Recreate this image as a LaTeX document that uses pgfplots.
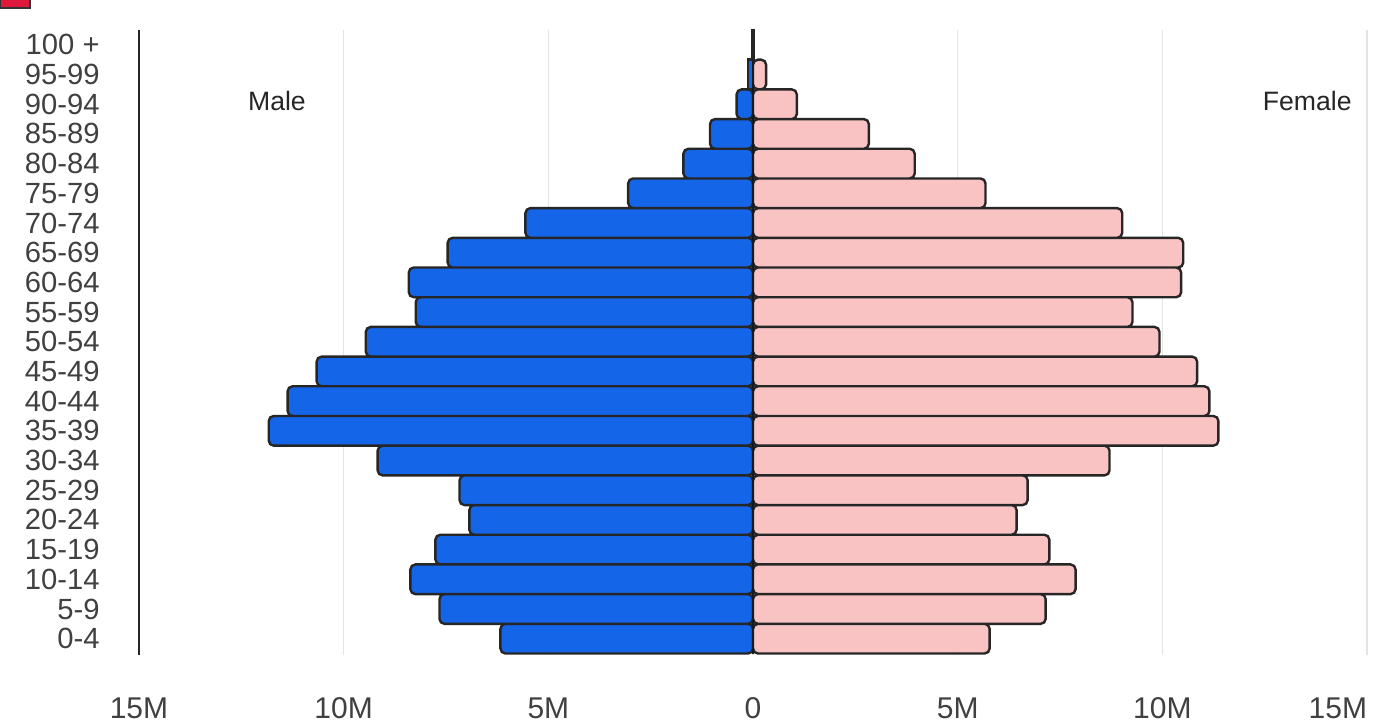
\documentclass[border=0pt]{standalone}
\usepackage{pgfplots}
\pgfplotsset{compat=1.18}
\usepackage{fontspec}
\setmainfont{Liberation Sans}
\definecolor{maleblue}{HTML}{1565E8}
\definecolor{femalepink}{HTML}{F9C3C3}
\definecolor{gridgray}{HTML}{E4E4E4}
\definecolor{labelgray}{HTML}{404040}
\definecolor{tagred}{HTML}{E0193C}
\pgfplotstableread{
x y
-6.17 0
-7.66 1
-8.37 2
-7.76 3
-6.93 4
-7.17 5
-9.17 6
-11.83 7
-11.37 8
-10.66 9
-9.46 10
-8.24 11
-8.41 12
-7.46 13
-5.56 14
-3.05 15
-1.70 16
-1.05 17
-0.40 18
-0.12 19
-0.03 20
}\maletable
\pgfplotstableread{
x y
5.78 0
7.15 1
7.88 2
7.24 3
6.44 4
6.71 5
8.71 6
11.37 7
11.15 8
10.85 9
9.93 10
9.27 11
10.46 12
10.51 13
9.02 14
5.68 15
3.95 16
2.83 17
1.07 18
0.32 19
0.03 20
}\femaletable
\begin{document}
\begin{tikzpicture}
\begin{axis}[
  at={(69.5pt,33.5pt)}, anchor=south west,
  scale only axis, width=614pt, height=312.5pt,
  xmin=-15, xmax=15, ymin=-0.55, ymax=20.5,
  axis line style={draw=none},
  major tick length=0pt,
  xtick={-10,-5,0,5,10,15},
  xticklabels={10M,5M,0,5M,10M,\makebox[0pt][r]{15M}},
  extra x ticks={-15}, extra x tick labels={15M},
  extra x tick style={major grid style={draw=black!85, line width=1pt}},
  xmajorgrids, major grid style={gridgray, line width=0.7pt},
  ytick={0,...,20},
  yticklabels={0-4,5-9,10-14,15-19,20-24,25-29,30-34,35-39,40-44,45-49,50-54,55-59,60-64,65-69,70-74,75-79,80-84,85-89,90-94,95-99,100 +},
  xticklabel style={font=\fontsize{15}{15}\selectfont, text=labelgray, anchor=center, yshift=-26.5pt},
  yticklabel style={font=\fontsize{14.6}{14.6}\selectfont, text=labelgray, anchor=east, inner sep=0pt, xshift=-19.5pt},
  xbar, bar width=1, bar shift=0pt,
  clip=false,
]
\addplot[fill=maleblue, draw=black!85, line width=1.2pt, rounded corners=2.5pt, skip coords between index={19}{21}] table[x=x,y=y] {\maletable};
\addplot[fill=femalepink, draw=black!85, line width=1.2pt, rounded corners=2.5pt, skip coords between index={20}{21}] table[x=x,y=y] {\femaletable};
\addplot[fill=maleblue, draw=black!85, line width=1.2pt, skip coords between index={0}{19}] table[x=x,y=y] {\maletable};
\addplot[fill=femalepink, draw=black!85, line width=1.2pt, skip coords between index={0}{20}] table[x=x,y=y] {\femaletable};
\addplot[sharp plot, black!90, line width=1.3pt] coordinates {(0,-0.5) (0,19.5)};
\node[font=\fontsize{13.3}{13.3}\selectfont, text=black!85] at (axis cs:-11.63,18.11) {Male};
\node[font=\fontsize{13.3}{13.3}\selectfont, text=black!85] at (axis cs:13.54,18.11) {Female};
\end{axis}
\fill[tagred, draw=black!80, line width=0.6pt] (0pt,357pt) rectangle (15pt,362pt);
\pgfresetboundingbox
\path (0,0) rectangle (692pt,361pt);
\end{tikzpicture}
\end{document}
